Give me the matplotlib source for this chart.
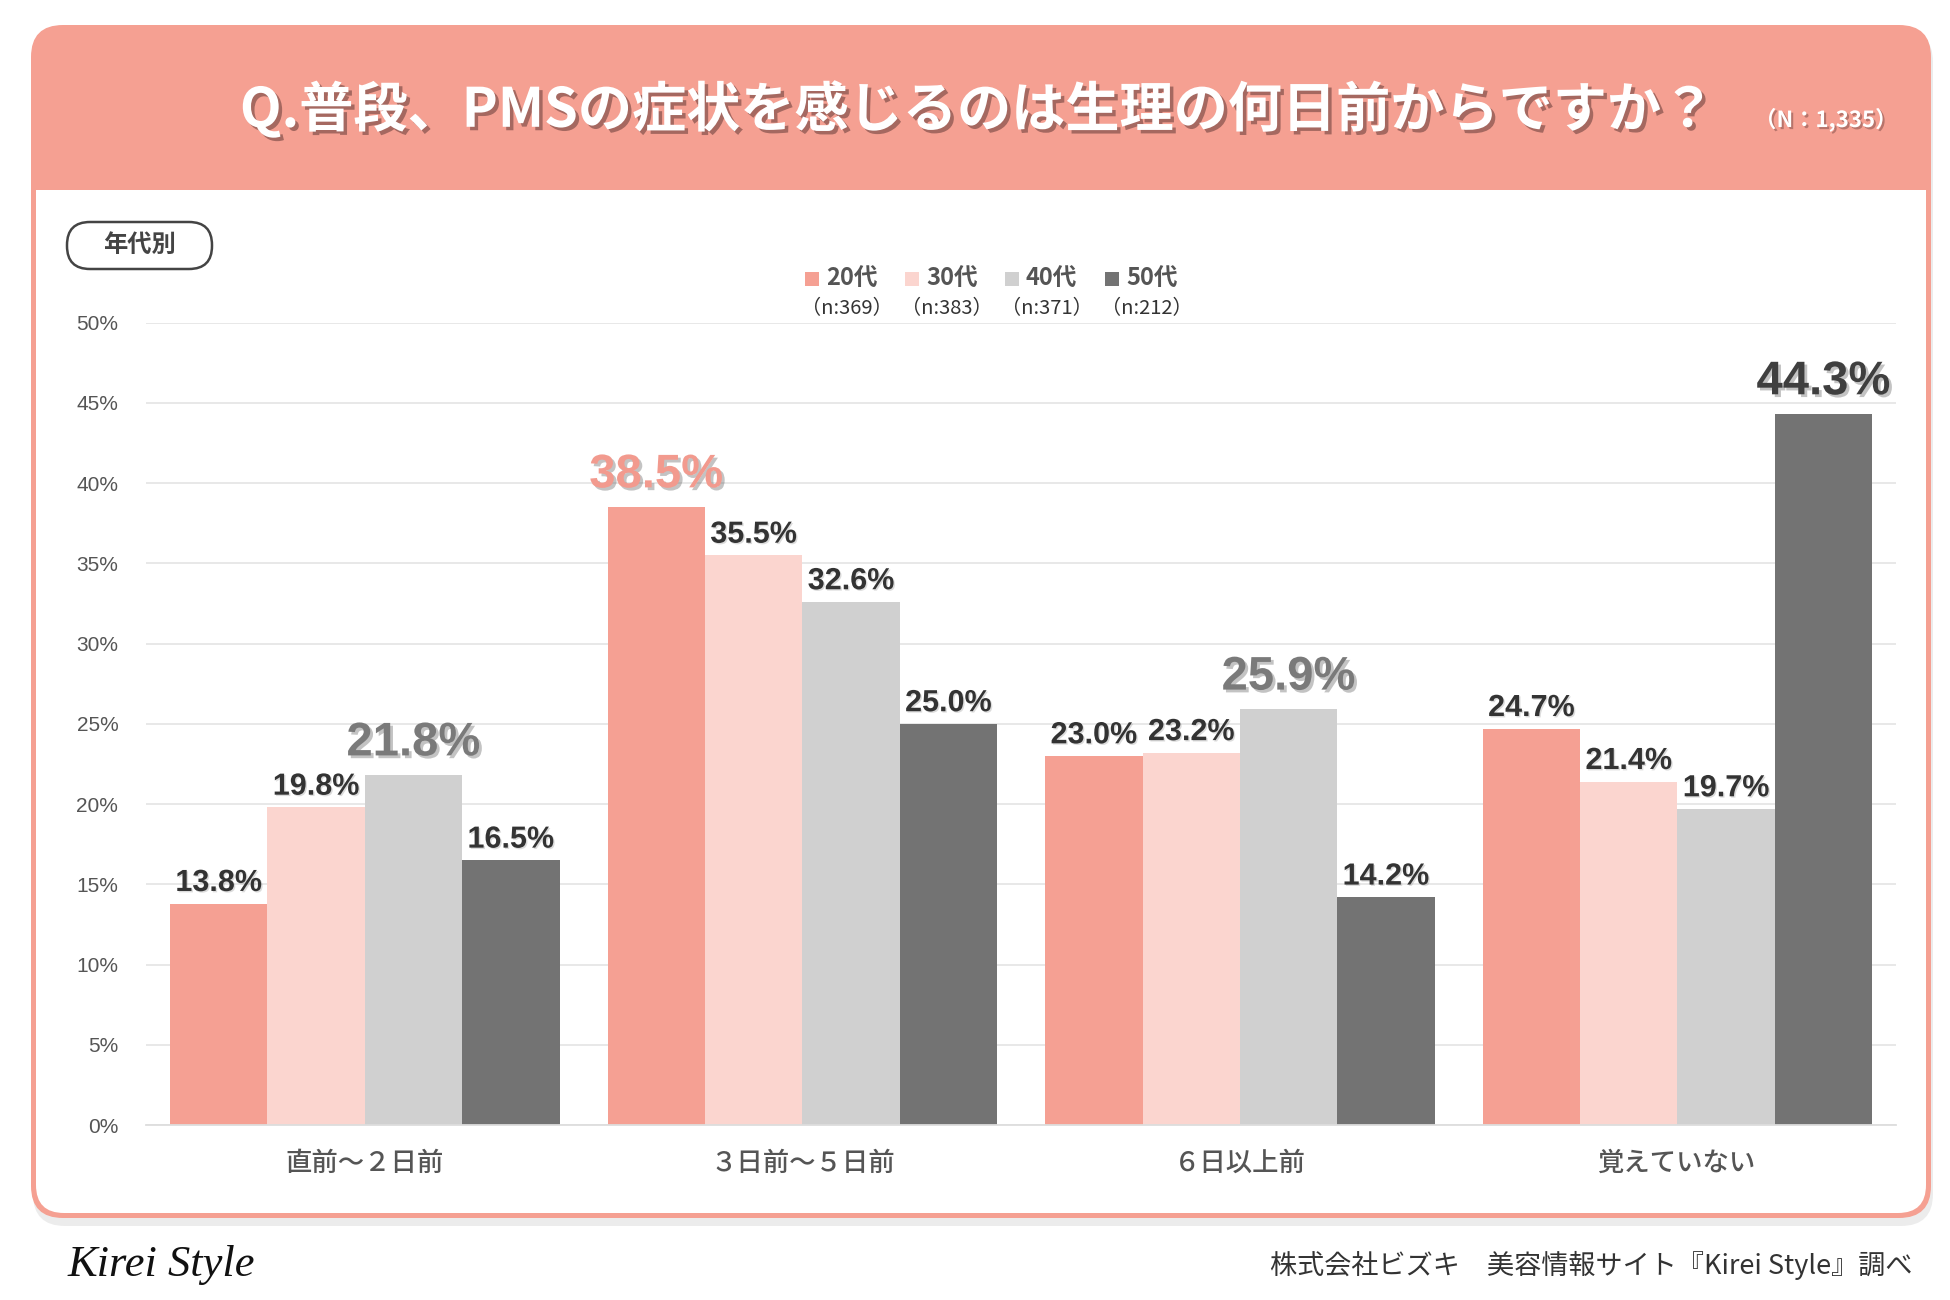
import numpy as np
import matplotlib
matplotlib.use('Agg')
import matplotlib.pyplot as plt
import matplotlib.patheffects as pe
from matplotlib.patches import FancyBboxPatch, Rectangle

plt.rcParams['font.family'] = ['Noto Sans CJK JP', 'DejaVu Sans']

# data
categories = ['直前～２日前', '３日前～５日前', '６日以上前', '覚えていない']
ages = ['20代', '30代', '40代', '50代']
n_counts = [369, 383, 371, 212]
values = {
    '20代': [13.8, 38.5, 23.0, 24.7],
    '30代': [19.8, 35.5, 23.2, 21.4],
    '40代': [21.8, 32.6, 25.9, 19.7],
    '50代': [16.5, 25.0, 14.2, 44.3],
}
title = 'Q.普段、PMSの症状を感じるのは生理の何日前からですか？'
total_n = '（N：1,335）'
yticks = [0, 5, 10, 15, 20, 25, 30, 35, 40, 45, 50]

bar_colors = ['#f5a093', '#fbd5cf', '#d0d0d0', '#737373']
hi_colors = ['#f29a8e', '#e0a8a0', '#7a7a7a', '#3f3f3f']
salmon = '#f5a092'

fig = plt.figure(figsize=(19.5, 13), dpi=100)

# background card, drawn in pixel units
bg = fig.add_axes([0, 0, 1, 1], zorder=0)
bg.set_xlim(0, 1950)
bg.set_ylim(1300, 0)
bg.axis('off')

shadow = FancyBboxPatch((33, 30), 1900, 1196, boxstyle='round,pad=0,rounding_size=32',
                        facecolor='#e8e8e8', edgecolor='none', alpha=0.8)
bg.add_patch(shadow)
card = FancyBboxPatch((31, 25), 1900, 1193, boxstyle='round,pad=0,rounding_size=32',
                      facecolor=salmon, edgecolor='none')
bg.add_patch(card)
body = FancyBboxPatch((36, 190), 1890, 1023, boxstyle='round,pad=0,rounding_size=28',
                      facecolor='white', edgecolor='none')
bg.add_patch(body)
bg.add_patch(Rectangle((36, 190), 1890, 80, facecolor='white', edgecolor='none'))

bg.text(977, 110, title, ha='center', va='center', fontsize=39, fontweight='bold', color='white',
        path_effects=[pe.SimplePatchShadow(offset=(2.5, -2.5), shadow_rgbFace='#7a4a45', alpha=0.65),
                      pe.Normal()])
bg.text(1826, 120, total_n, ha='center', va='center', fontsize=16, fontweight='bold', color='white',
        path_effects=[pe.SimplePatchShadow(offset=(1.5, -1.5), shadow_rgbFace='#7a4a45', alpha=0.5),
                      pe.Normal()])

# 年代別 tag
bg.add_patch(FancyBboxPatch((67, 222), 145, 47, boxstyle='round,pad=0,rounding_size=23',
                            facecolor='white', edgecolor='#444444', linewidth=1.8))
bg.text(139, 245, '年代別', ha='center', va='center', fontsize=17.5, fontweight='bold', color='#444444')

# legend
for i, (age, n) in enumerate(zip(ages, n_counts)):
    x0 = 805 + i * 100
    bg.add_patch(Rectangle((x0, 272), 14, 14, facecolor=bar_colors[i], edgecolor='none'))
    bg.text(x0 + 21, 279, age, ha='left', va='center', fontsize=17, fontweight='bold', color='#555555')
    bg.text(x0 + 42, 309, f'（n:{n}）', ha='center', va='center', fontsize=14.5, color='#333333')

# footer
bg.text(68, 1265, 'Kirei Style', ha='left', va='center', fontsize=32, style='italic',
        family=['Liberation Serif', 'DejaVu Serif'], color='#111111')
bg.text(1912, 1265, '株式会社ビズキ　美容情報サイト『Kirei Style』調べ', ha='right', va='center',
        fontsize=19.5, color='#333333')

# main chart
ax = fig.add_axes([0.0749, 0.1346, 0.8975, 0.6173], zorder=1)
ax.patch.set_alpha(0)
x = np.arange(len(categories))
w = 0.2225
for i, age in enumerate(ages):
    vals = values[age]
    ax.bar(x + (i - 1.5) * w, vals, w, color=bar_colors[i], zorder=2)

for j in range(len(categories)):
    group = [values[a][j] for a in ages]
    top = int(np.argmax(group))
    for i, age in enumerate(ages):
        v = values[age][j]
        xi = x[j] + (i - 1.5) * w
        if i == top:
            ax.annotate(f'{v:.1f}%', (xi, v), xytext=(0, 7), textcoords='offset points',
                        ha='center', va='bottom', fontsize=34, fontweight='bold', color=hi_colors[i],
                        family=['Liberation Sans', 'DejaVu Sans'],
                        path_effects=[pe.SimplePatchShadow(offset=(2, -2), shadow_rgbFace='#555555', alpha=0.35),
                                      pe.Normal()], zorder=3)
        else:
            ax.annotate(f'{v:.1f}%', (xi, v), xytext=(0, 4), textcoords='offset points',
                        ha='center', va='bottom', fontsize=22, fontweight='bold', color='#333333',
                        family=['Liberation Sans', 'DejaVu Sans'],
                        path_effects=[pe.SimplePatchShadow(offset=(1, -1), shadow_rgbFace='#777777', alpha=0.25),
                                      pe.Normal()], zorder=3)

ax.set_xlim(-0.5, len(categories) - 0.5)
ax.set_ylim(0, 50)
ax.set_yticks(yticks)
ax.set_yticklabels([f'{t}%' for t in yticks], family=['Liberation Sans', 'DejaVu Sans'],
                   fontsize=15, color='#555555')
ax.set_xticks(x)
ax.set_xticklabels(categories, fontsize=19, fontweight='medium', color='#555555')
ax.tick_params(axis='both', length=0)
ax.tick_params(axis='y', pad=20)
ax.tick_params(axis='x', pad=18)
ax.grid(axis='y', color='#e6e6e6', linewidth=1.3, zorder=0)
for s in ['top', 'right', 'left']:
    ax.spines[s].set_visible(False)
ax.spines['bottom'].set_color('#dddddd')
ax.spines['bottom'].set_linewidth(1.3)

fig.savefig('out.png', dpi=100)
